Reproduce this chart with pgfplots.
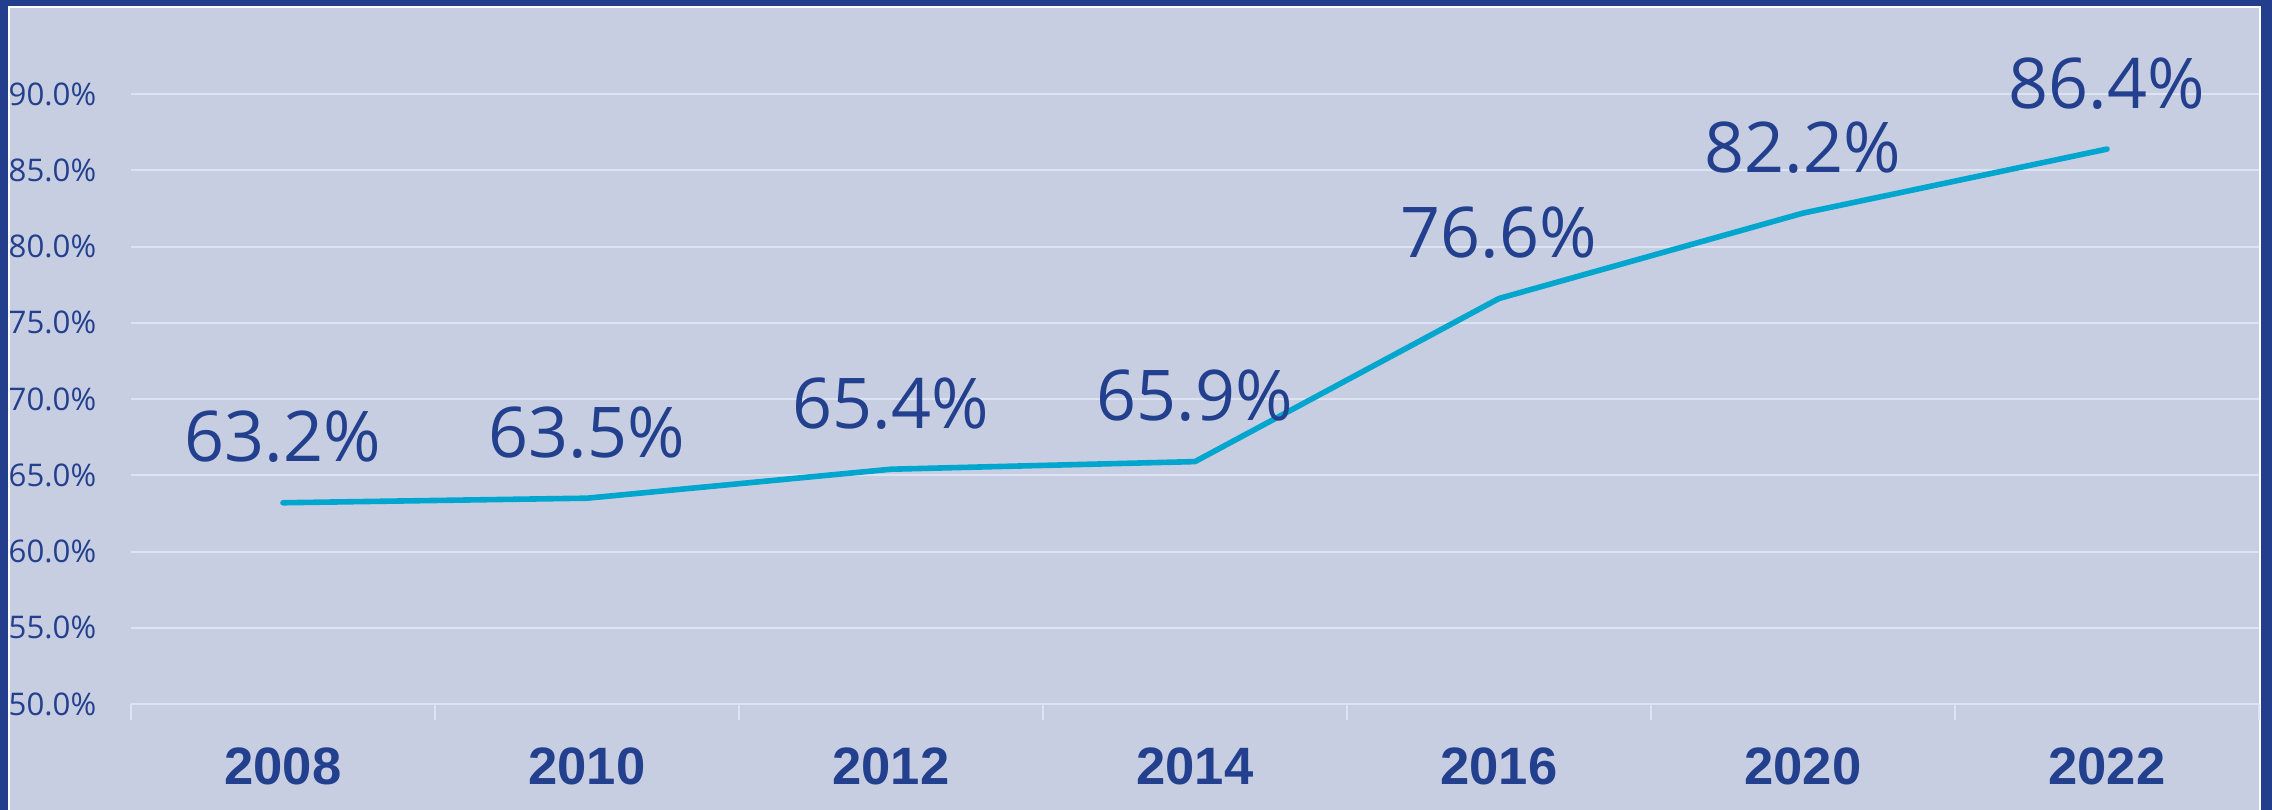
\documentclass[border=0pt]{standalone}
\usepackage{pgfplots}
\pgfplotsset{compat=1.18}
\usepackage{fontspec}
\setmainfont{Open Sans}
\newfontfamily\arialfont{Liberation Sans}
\definecolor{bordercol}{RGB}{35,62,140}
\definecolor{bgcol}{RGB}{200,206,225}
\definecolor{gridcol}{RGB}{220,227,242}
\definecolor{txtcol}{RGB}{35,64,142}
\definecolor{linecol}{RGB}{0,166,206}
\begin{document}
\begin{tikzpicture}[x=0.25pt,y=0.25pt]
\fill[bordercol] (0,0) rectangle (2272,810);
\fill[white] (8,0) rectangle (2261,804);
\fill[bgcol] (10,0) rectangle (2259,802);
\begin{axis}[
  at={(32.75pt,26.5pt)}, anchor=south west,
  scale only axis, width=532pt, height=171.5pt,
  xmin=-0.5, xmax=6.5, ymin=50, ymax=95,
  clip=false,
  axis x line*=bottom, axis y line*=left,
  x axis line style={draw=gridcol, line width=0.5pt},
  y axis line style={draw=none},
  xtick={0,...,6},
  xticklabels={2008,2010,2012,2014,2016,2020,2022},
  minor xtick={-0.5,0.5,...,6.5},
  major tick length=0pt, minor tick length=4pt,
  tick align=outside,
  minor tick style={draw=gridcol, line width=0.5pt},
  major tick style={draw=none},
  ytick={50,55,...,90},
  yticklabels={50.0\%,55.0\%,60.0\%,65.0\%,70.0\%,75.0\%,80.0\%,85.0\%,90.0\%},
  ymajorgrids,
  grid style={draw=gridcol, line width=0.5pt},
  /pgf/number format/assume math mode=true,
  xticklabel style={font=\arialfont\bfseries\fontsize{13.15pt}{15pt}\selectfont, text=txtcol, inner sep=0pt, anchor=north, yshift=-10.75pt},
  yticklabel style={font=\fontsize{7.8pt}{9pt}\selectfont, text=txtcol, inner sep=0pt, anchor=east, xshift=-8.5pt},
  nodes near coords={\pgfmathprintnumber[fixed,precision=1,zerofill,assume math mode=true]{\pgfplotspointmeta}\%},
  point meta=y,
  every node near coord/.style={font=\fontsize{17.5pt}{20pt}\selectfont, text=txtcol, inner sep=0pt, anchor=south, yshift=9.25pt},
]
\addplot[linecol, line width=1.4pt, line cap=round, line join=round, mark=none] coordinates {
(0,63.2) (1,63.5) (2,65.4) (3,65.9) (4,76.6) (5,82.2) (6,86.4)
};
\end{axis}
\pgfresetboundingbox
\path[use as bounding box] (0,0) rectangle (2272,810);
\end{tikzpicture}
\end{document}
